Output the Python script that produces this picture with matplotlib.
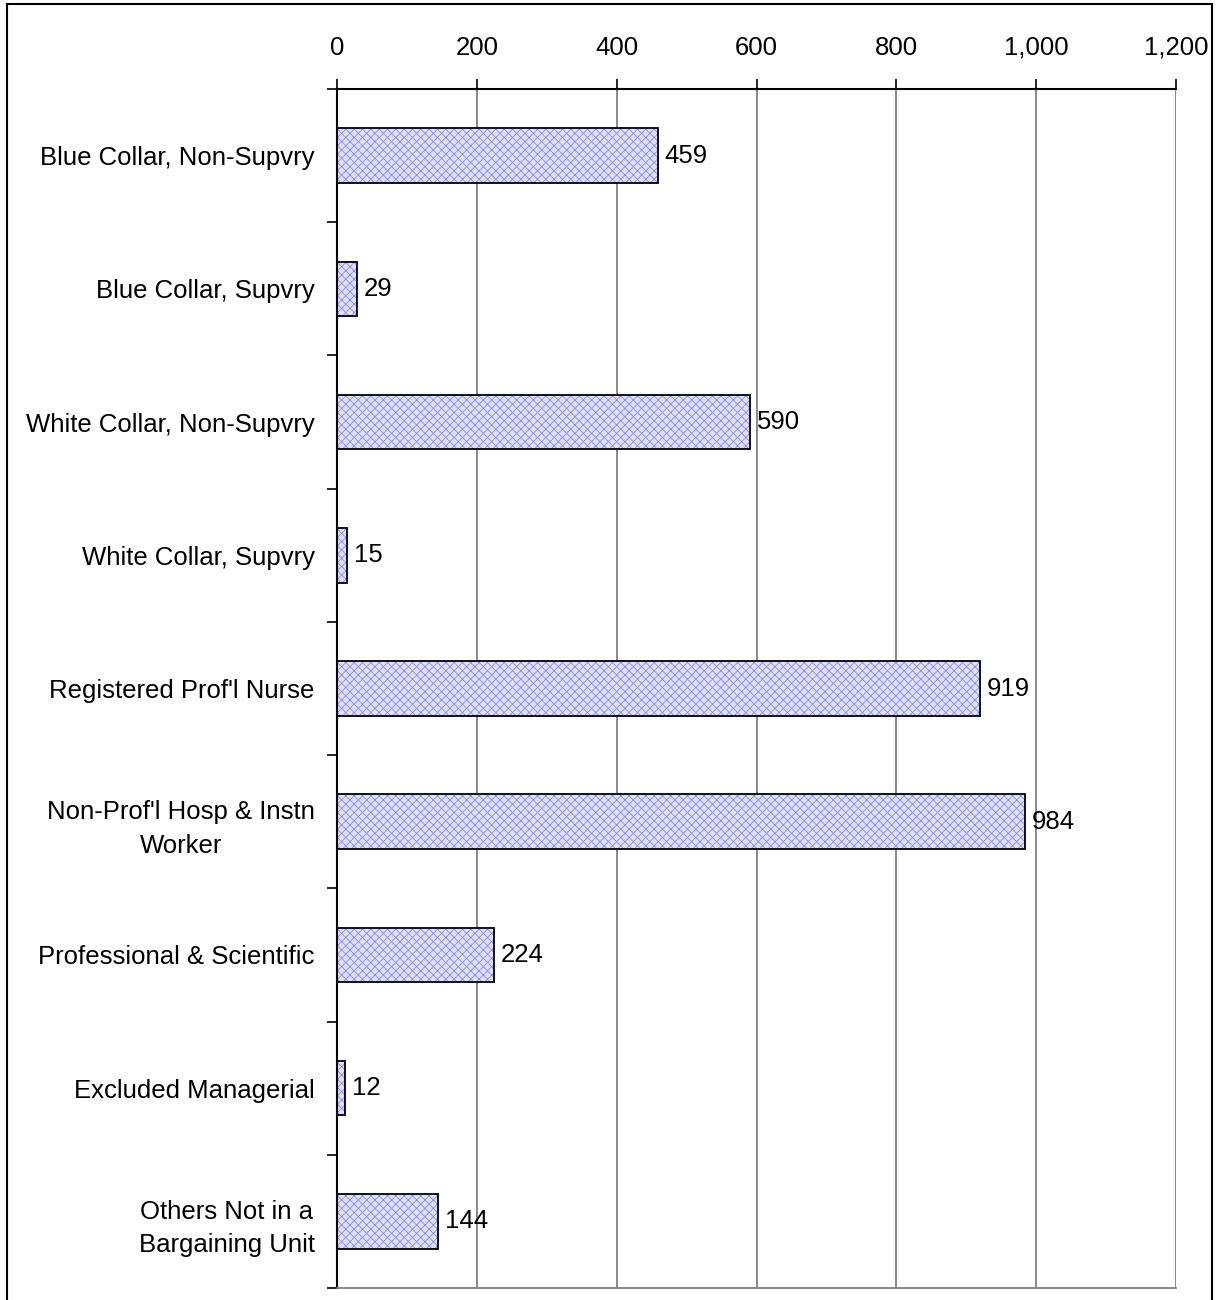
import matplotlib
matplotlib.use('Agg')
import matplotlib.pyplot as plt
import matplotlib.ticker as ticker
from matplotlib.patches import Rectangle
import numpy as np

categories = [
    'Blue Collar, Non-Supvry',
    'Blue Collar, Supvry',
    'White Collar, Non-Supvry',
    'White Collar, Supvry',
    "Registered Prof'l Nurse",
    "Non-Prof'l Hosp & Instn\nWorker",
    'Professional & Scientific',
    'Excluded Managerial',
    'Others Not in a\nBargaining Unit',
]
counts = [459, 29, 590, 15, 919, 984, 224, 12, 144]
x_ticks = [0, 200, 400, 600, 800, 1000, 1200]

plt.rcParams['font.family'] = ['Liberation Sans', 'DejaVu Sans']
plt.rcParams['hatch.linewidth'] = 0.6

fig = plt.figure(figsize=(12.18, 13.0), dpi=100)
ax = fig.add_axes([337 / 1218, 1 - 1288 / 1300, (1176 - 337) / 1218, (1288 - 89) / 1300])

y = np.arange(len(categories))

# bar fill with blue crosshatch, then a black outline on top
ax.barh(y, counts, height=0.41, color='#e0e0ff', edgecolor='#8888ff',
        hatch='xxxx', linewidth=0, zorder=2)
ax.barh(y, counts, height=0.41, fill=False, edgecolor='black',
        linewidth=1.3, zorder=3)

for yi, v in zip(y, counts):
    ax.annotate(str(v), (v, yi), xytext=(5, 0), textcoords='offset points',
                va='center', ha='left', fontsize=18.5, zorder=4)

ax.set_xlim(0, 1200)
ax.set_ylim(len(categories) - 0.5, -0.5)
ax.set_xticks(x_ticks)
ax.xaxis.set_major_formatter(ticker.FuncFormatter(lambda v, p: f'{int(v):,}'))
ax.xaxis.tick_top()
ax.tick_params(axis='x', direction='out', length=7, width=1.2, color='black',
               labelsize=18.5, pad=14)

ax.set_yticks(y)
ax.set_yticklabels(categories, fontsize=18.5, multialignment='center')
for lbl in ax.get_yticklabels():
    lbl.set_linespacing(1.5)
ax.set_yticks(np.arange(-0.5, len(categories), 1.0), minor=True)
ax.tick_params(axis='y', which='major', length=0, pad=16)
ax.tick_params(axis='y', which='minor', direction='out', length=7, width=1.2, color='black')

ax.grid(axis='x', color='#808080', linewidth=1.3, zorder=0)
ax.set_axisbelow(True)

ax.spines['top'].set_color('black')
ax.spines['top'].set_linewidth(1.5)
ax.spines['left'].set_color('black')
ax.spines['left'].set_linewidth(1.5)
ax.spines['bottom'].set_color('#808080')
ax.spines['bottom'].set_linewidth(1.3)
ax.spines['right'].set_visible(False)

# outer chart border (runs off the bottom of the image)
border = Rectangle((7 / 1218, -0.02), (1212 - 7) / 1218, 1 - 4 / 1300 + 0.02,
                   transform=fig.transFigure, fill=False, edgecolor='black',
                   linewidth=1.5, clip_on=False)
fig.patches.append(border)

fig.savefig('out.png', dpi=100, facecolor='white')
